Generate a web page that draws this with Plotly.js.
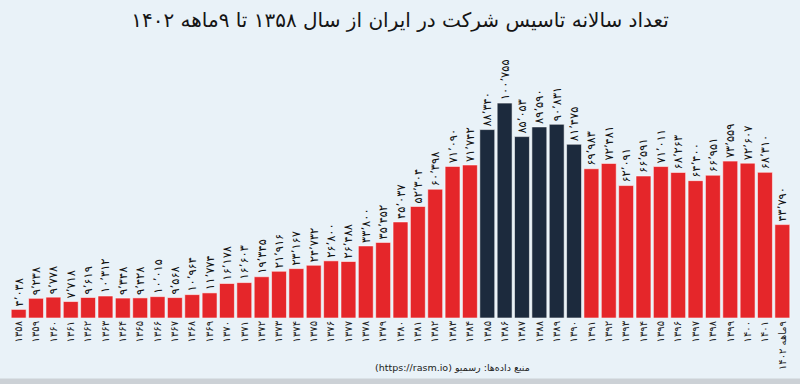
<!DOCTYPE html>
<html>
<head>
<meta charset="utf-8">
<script src="https://cdn.plot.ly/plotly-3.0.1.min.js"></script>
<style>
html,body{margin:0;padding:0;background:#e9f2f8;}
#chart{width:800px;height:384px;}
</style>
</head>
<body>
<div id="chart"></div>
<script>
// Years (Solar Hijri) — tick labels
const years = ['۱۳۵۸','۱۳۵۹','۱۳۶۰','۱۳۶۱','۱۳۶۲','۱۳۶۳','۱۳۶۴','۱۳۶۵','۱۳۶۶','۱۳۶۷',
  '۱۳۶۸','۱۳۶۹','۱۳۷۰','۱۳۷۱','۱۳۷۲','۱۳۷۳','۱۳۷۴','۱۳۷۵','۱۳۷۶','۱۳۷۷',
  '۱۳۷۸','۱۳۷۹','۱۳۸۰','۱۳۸۱','۱۳۸۲','۱۳۸۳','۱۳۸۴','۱۳۸۵','۱۳۸۶','۱۳۸۷',
  '۱۳۸۸','۱۳۸۹','۱۳۹۰','۱۳۹۱','۱۳۹۲','۱۳۹۳','۱۳۹۴','۱۳۹۵','۱۳۹۶','۱۳۹۷',
  '۱۳۹۸','۱۳۹۹','۱۴۰۰','۱۴۰۱','\u200F۹ماهه ۱۴۰۲'];
// Number of companies registered per year
const companies = [4038, 9238, 9778, 7718, 9619, 10312, 9348, 9428, 10015, 9568,
  10964, 11774, 16178, 16603, 19345, 21916, 23167, 24732, 26800, 26488,
  33800, 35452, 45037, 52304, 60398, 71090, 71742, 88340, 100755, 85053,
  89590, 90831, 81475, 69983, 72481, 62091, 66591, 71011, 68263, 64400,
  66951, 73559, 72607, 68310, 43790];
// Highlighted years (dark bars)
const highlighted = ['۱۳۸۵','۱۳۸۶','۱۳۸۷','۱۳۸۸','۱۳۸۹','۱۳۹۰'];

const titleText = 'تعداد سالانه تاسیس شرکت در ایران از سال ۱۳۵۸ تا ۹ماهه ۱۴۰۲';
const sourceText = '(https://rasm.io) منبع داده‌ها: رسمیو';

const RED = '#e5262a', NAVY = '#1c2a3d';
const faDigits = '۰۱۲۳۴۵۶۷۸۹';
function toFa(n){
  const s = n.toLocaleString('en-US').replace(/,/g,'٬');
  return s.replace(/[0-9]/g, d => faDigits[+d]);
}
const colors = years.map(y => highlighted.includes(y) ? NAVY : RED);
const FONT = 'DejaVu Sans, sans-serif';

const trace = {
  type: 'bar',
  x: years,
  y: companies,
  text: companies.map(toFa),
  textposition: 'outside',
  textangle: -90,
  constraintext: 'none',
  cliponaxis: false,
  textfont: {family: FONT, size: 11.5, color: '#111'},
  marker: {color: colors, line: {color: 'rgba(255,255,255,0.55)', width: 1}},
  hoverinfo: 'none'
};

const layout = {
  width: 800, height: 384,
  margin: {l: 10, r: 9, t: 45, b: 66},
  paper_bgcolor: '#e9f2f8',
  plot_bgcolor: 'rgba(0,0,0,0)',
  bargap: 0.14,
  showlegend: false,
  title: {text: titleText, x: 0.5, xanchor: 'center', y: 0.965, yanchor: 'top',
          font: {family: FONT, size: 20, color: '#151515'}},
  xaxis: {type: 'category', tickangle: -90, showgrid: false, zeroline: false, showline: false,
          ticks: '', ticklen: 0, tickfont: {family: FONT, size: 10, color: '#222'}, fixedrange: true},
  yaxis: {range: [0, 128000], visible: false, showgrid: false, zeroline: false, fixedrange: true},
  shapes: [{type: 'rect', xref: 'paper', yref: 'paper', x0: -0.02, x1: 1.02, y0: -0.245, y1: -0.222,
            fillcolor: '#ccd1d6', line: {width: 0}, layer: 'below'}],
  annotations: [{text: sourceText, xref: 'paper', yref: 'paper', x: 0.567, y: -0.183,
                 xanchor: 'center', yanchor: 'middle', showarrow: false,
                 font: {family: FONT, size: 9.5, color: '#222'}}]
};

Plotly.newPlot('chart', [trace], layout, {displayModeBar: false, staticPlot: true});
</script>
</body>
</html>
